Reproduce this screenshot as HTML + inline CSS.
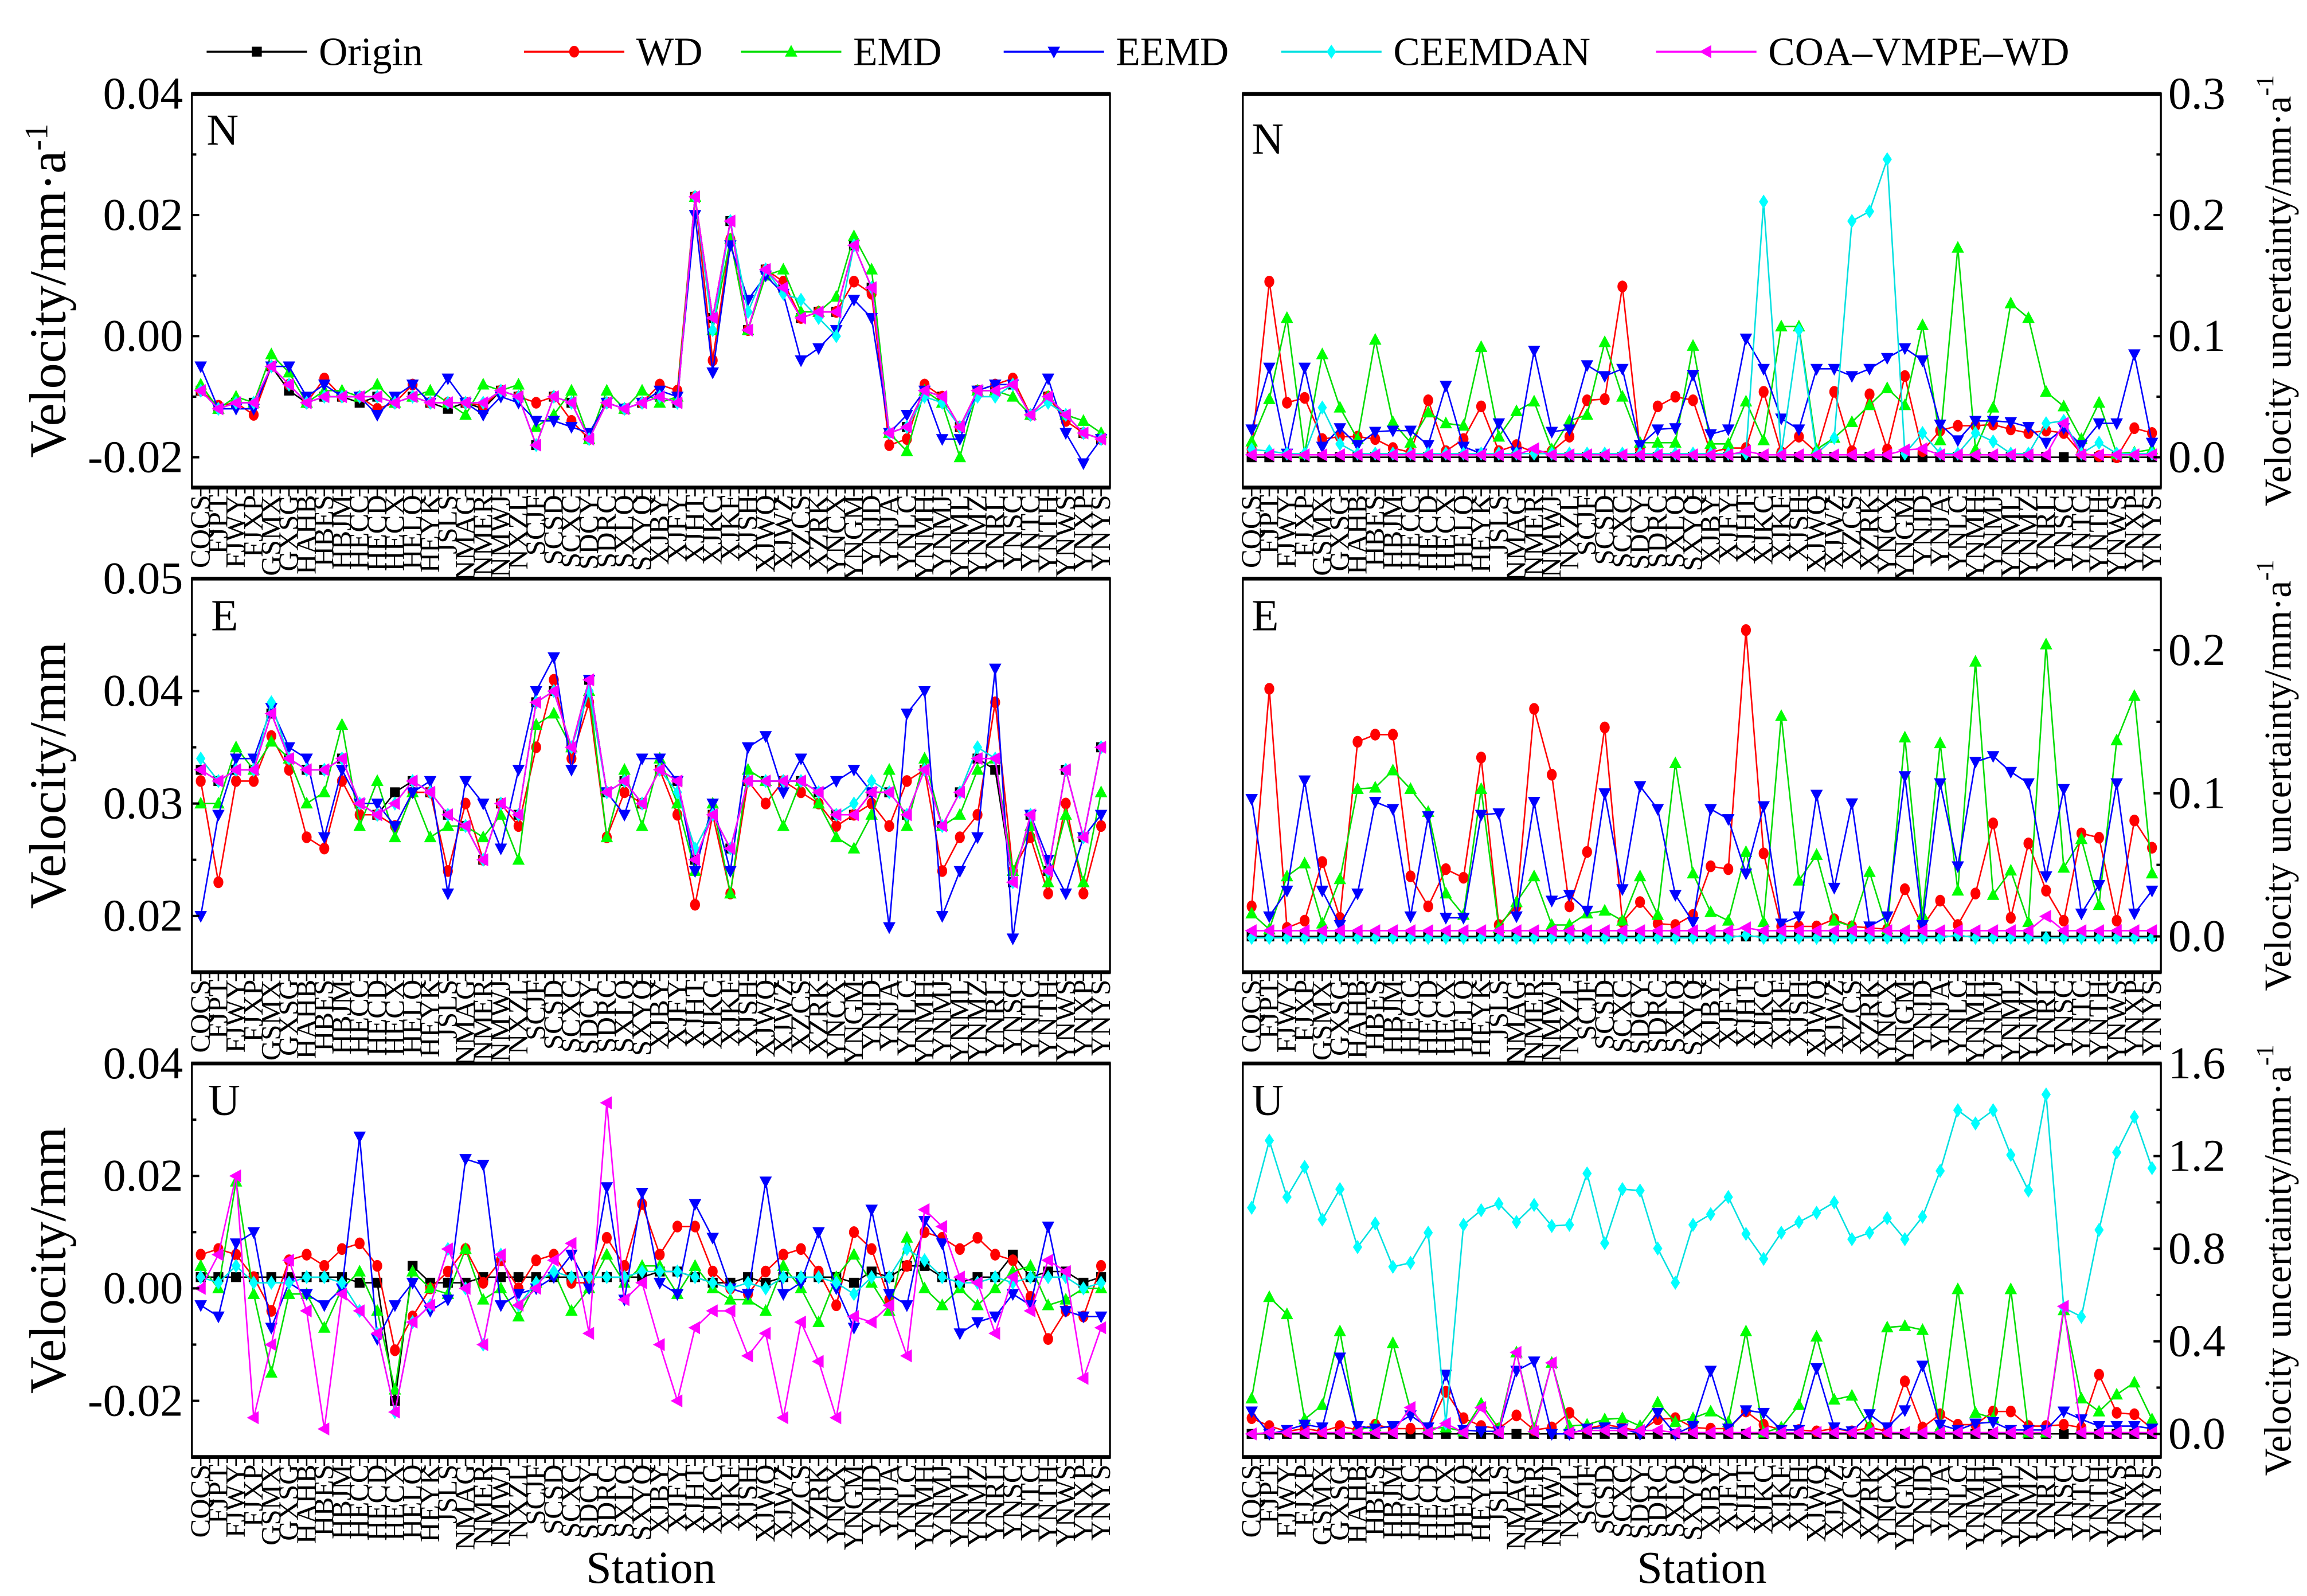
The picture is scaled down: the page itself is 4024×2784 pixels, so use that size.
<!DOCTYPE html>
<html><head><meta charset="utf-8"><style>html,body{margin:0;padding:0;background:#fff}svg{display:block}svg text{font-family:"Liberation Serif",serif;fill:#000}</style></head>
<body>
<svg id="chart" xmlns="http://www.w3.org/2000/svg" width="4024" height="2784" viewBox="0 0 1563 1081" preserveAspectRatio="none" font-family="Liberation Serif, serif">
<g id="legend"></g>
<g id="panels"></g>
</svg>
<script>
const stations = ["CQCS","FJPT","FJWY","FJXP","GSMX","GXSG","HAHB","HBES","HBJM","HECC","HECD","HECX","HELQ","HEYK","JSLS","NMAG","NMER","NMWJ","NXZL","SCJF","SCSD","SCXC","SDCY","SDRC","SXLQ","SXYQ","XJBY","XJFY","XJHT","XJKC","XJKF","XJSH","XJWQ","XJWZ","XZCS","XZRK","YNCX","YNGM","YNJD","YNJA","YNLC","YNMH","YNMJ","YNML","YNMZ","YNRL","YNSC","YNTC","YNTH","YNWS","YNXP","YNYS"];
const seriesNames = ["Origin","WD","EMD","EEMD","CEEMDAN","COA\u2013VMPE\u2013WD"];

const nOrigin = [-0.009,-0.012,-0.011,-0.011,-0.005,-0.009,-0.011,-0.010,-0.010,-0.011,-0.010,-0.011,-0.010,-0.011,-0.012,-0.011,-0.012,-0.009,-0.010,-0.018,-0.010,-0.011,-0.017,-0.011,-0.012,-0.011,-0.010,-0.011,0.023,0.003,0.019,0.001,0.011,0.008,0.003,0.004,0.004,0.015,0.008,-0.016,-0.015,-0.009,-0.010,-0.015,-0.009,-0.009,-0.008,-0.013,-0.010,-0.013,-0.016,-0.017];
const nWD = [-0.009,-0.0115,-0.011,-0.013,-0.005,-0.008,-0.011,-0.007,-0.010,-0.010,-0.012,-0.011,-0.008,-0.011,-0.011,-0.011,-0.0115,-0.009,-0.010,-0.011,-0.010,-0.014,-0.017,-0.011,-0.012,-0.011,-0.008,-0.009,0.023,-0.004,0.016,0.001,0.011,0.009,0.003,0.004,0.004,0.009,0.007,-0.018,-0.017,-0.008,-0.010,-0.015,-0.009,-0.008,-0.007,-0.013,-0.010,-0.014,-0.016,-0.017];
const nEMD = [-0.008,-0.012,-0.010,-0.011,-0.003,-0.006,-0.011,-0.009,-0.009,-0.010,-0.008,-0.011,-0.010,-0.009,-0.011,-0.013,-0.008,-0.009,-0.008,-0.015,-0.013,-0.009,-0.017,-0.009,-0.012,-0.009,-0.011,-0.010,0.023,0.001,0.016,0.001,0.010,0.011,0.004,0.004,0.0065,0.0165,0.011,-0.016,-0.019,-0.009,-0.011,-0.020,-0.009,-0.009,-0.010,-0.013,-0.010,-0.013,-0.014,-0.016];
const nEEMD = [-0.005,-0.012,-0.012,-0.012,-0.005,-0.005,-0.010,-0.008,-0.010,-0.010,-0.013,-0.010,-0.008,-0.011,-0.007,-0.011,-0.013,-0.010,-0.011,-0.014,-0.014,-0.015,-0.016,-0.011,-0.012,-0.011,-0.009,-0.010,0.020,-0.006,0.015,0.006,0.010,0.007,-0.004,-0.002,0.001,0.006,0.003,-0.016,-0.013,-0.009,-0.017,-0.017,-0.009,-0.008,-0.008,-0.013,-0.007,-0.016,-0.021,-0.017];
const nCEE = [-0.009,-0.012,-0.011,-0.011,-0.005,-0.008,-0.011,-0.010,-0.010,-0.010,-0.010,-0.011,-0.010,-0.011,-0.011,-0.011,-0.011,-0.009,-0.010,-0.018,-0.010,-0.011,-0.017,-0.011,-0.012,-0.011,-0.010,-0.011,0.023,0.001,0.019,0.004,0.011,0.007,0.006,0.003,0.000,0.015,0.008,-0.016,-0.015,-0.010,-0.011,-0.015,-0.010,-0.010,-0.008,-0.013,-0.011,-0.013,-0.016,-0.017];
const nCOA = [-0.009,-0.012,-0.011,-0.011,-0.005,-0.008,-0.011,-0.010,-0.010,-0.010,-0.010,-0.011,-0.010,-0.011,-0.011,-0.011,-0.011,-0.009,-0.010,-0.018,-0.010,-0.011,-0.017,-0.011,-0.012,-0.011,-0.010,-0.011,0.023,0.003,0.019,0.001,0.011,0.008,0.003,0.004,0.004,0.015,0.008,-0.016,-0.015,-0.009,-0.010,-0.015,-0.009,-0.009,-0.008,-0.013,-0.010,-0.013,-0.016,-0.017];

const eOrigin = [0.033,0.032,0.033,0.033,0.038,0.034,0.033,0.033,0.034,0.030,0.029,0.031,0.032,0.031,0.029,0.028,0.025,0.030,0.029,0.039,0.040,0.035,0.041,0.031,0.032,0.030,0.033,0.032,0.025,0.029,0.026,0.032,0.032,0.032,0.032,0.031,0.029,0.029,0.031,0.031,0.029,0.033,0.028,0.031,0.034,0.033,0.023,0.029,0.024,0.033,0.027,0.035];
const eWD = [0.032,0.023,0.032,0.032,0.036,0.033,0.027,0.026,0.032,0.029,0.029,0.028,0.031,0.031,0.024,0.030,0.025,0.030,0.028,0.035,0.041,0.034,0.039,0.027,0.031,0.030,0.033,0.029,0.021,0.029,0.022,0.032,0.030,0.032,0.031,0.030,0.028,0.029,0.030,0.028,0.032,0.033,0.024,0.027,0.029,0.039,0.024,0.027,0.022,0.030,0.022,0.028];
const eEMD = [0.030,0.030,0.035,0.033,0.0355,0.034,0.030,0.031,0.037,0.028,0.032,0.027,0.031,0.027,0.028,0.028,0.027,0.029,0.025,0.037,0.038,0.035,0.040,0.027,0.033,0.028,0.034,0.030,0.024,0.030,0.022,0.033,0.032,0.028,0.032,0.030,0.027,0.026,0.029,0.033,0.028,0.034,0.028,0.029,0.033,0.034,0.024,0.028,0.023,0.029,0.023,0.031];
const eEEMD = [0.020,0.029,0.034,0.034,0.0385,0.035,0.034,0.027,0.033,0.030,0.030,0.028,0.031,0.032,0.022,0.032,0.030,0.026,0.033,0.040,0.043,0.033,0.041,0.031,0.029,0.034,0.034,0.032,0.024,0.030,0.024,0.035,0.036,0.031,0.034,0.031,0.032,0.033,0.031,0.019,0.038,0.040,0.020,0.024,0.027,0.042,0.018,0.029,0.025,0.022,0.027,0.029];
const eCEE = [0.034,0.032,0.033,0.033,0.039,0.034,0.033,0.033,0.034,0.030,0.029,0.030,0.032,0.031,0.029,0.028,0.025,0.030,0.029,0.039,0.040,0.035,0.040,0.031,0.032,0.030,0.033,0.031,0.026,0.029,0.026,0.032,0.032,0.032,0.032,0.031,0.029,0.030,0.032,0.031,0.029,0.033,0.028,0.031,0.035,0.034,0.023,0.029,0.024,0.033,0.027,0.035];
const eCOA = [0.033,0.032,0.033,0.033,0.038,0.034,0.033,0.033,0.034,0.030,0.029,0.030,0.032,0.031,0.029,0.028,0.025,0.030,0.029,0.039,0.040,0.035,0.041,0.031,0.032,0.030,0.033,0.032,0.025,0.029,0.026,0.032,0.032,0.032,0.032,0.031,0.029,0.029,0.031,0.031,0.029,0.033,0.028,0.031,0.034,0.034,0.023,0.029,0.024,0.033,0.027,0.035];

const uOrigin = [0.002,0.002,0.002,0.002,0.002,0.002,0.002,0.002,0.002,0.001,0.001,-0.020,0.004,0.001,0.001,0.001,0.002,0.002,0.002,0.002,0.002,0.002,0.002,0.002,0.002,0.002,0.003,0.003,0.002,0.001,0.001,0.002,0.001,0.002,0.002,0.002,0.002,0.001,0.003,0.002,0.004,0.004,0.002,0.001,0.002,0.002,0.006,0.002,0.003,0.003,0.001,0.002];
const uWD = [0.006,0.007,0.006,0.002,-0.004,0.005,0.006,0.004,0.007,0.008,0.004,-0.011,-0.005,0.000,0.003,0.007,0.001,0.005,0.000,0.005,0.006,0.001,0.001,0.009,0.004,0.015,0.006,0.011,0.011,0.003,0.000,-0.001,0.003,0.006,0.007,0.003,-0.003,0.010,0.007,-0.002,0.004,0.010,0.009,0.007,0.009,0.006,0.005,-0.0015,-0.009,-0.004,-0.005,0.004];
const uEMD = [0.004,0.000,0.019,-0.001,-0.015,-0.001,-0.001,-0.007,0.000,0.003,-0.004,-0.018,0.003,0.000,-0.001,0.007,-0.002,0.000,-0.005,0.001,0.003,-0.004,0.000,0.006,0.001,0.004,0.004,-0.001,0.004,0.000,-0.002,-0.002,-0.004,0.004,0.000,-0.006,0.002,0.006,0.001,-0.004,0.009,0.000,-0.003,0.000,-0.003,0.000,0.003,0.004,-0.003,-0.002,0.000,0.000];
const uEEMD = [-0.003,-0.005,0.008,0.010,-0.007,0.001,-0.001,-0.003,0.000,0.027,-0.009,-0.003,0.001,-0.004,-0.002,0.023,0.022,-0.003,-0.001,0.000,0.002,0.006,0.000,0.018,-0.002,0.017,0.001,-0.001,0.015,0.009,0.000,-0.001,0.019,-0.001,0.001,0.010,0.000,-0.007,0.014,-0.001,-0.003,0.012,0.008,-0.008,-0.006,-0.005,-0.001,-0.003,0.011,-0.004,-0.005,-0.005];
const uCEE = [0.002,0.001,0.004,0.001,0.001,0.001,0.002,0.002,0.001,-0.004,-0.008,-0.022,-0.006,-0.003,0.007,0.000,-0.010,0.006,-0.003,0.001,0.003,0.002,0.002,0.002,0.002,0.003,0.003,0.003,0.002,0.001,0.000,0.001,0.000,0.002,0.002,0.002,0.001,-0.001,0.002,0.002,0.007,0.005,0.002,0.001,0.001,0.002,0.001,0.002,0.002,0.002,0.000,0.001];
const uCOA = [0.000,0.006,0.020,-0.023,-0.010,0.005,-0.004,-0.025,-0.001,-0.004,-0.008,-0.022,-0.006,-0.003,0.007,0.000,-0.010,0.006,-0.003,0.000,0.005,0.008,-0.008,0.033,-0.002,0.001,-0.010,-0.020,-0.007,-0.004,-0.004,-0.012,-0.008,-0.023,-0.006,-0.013,-0.023,-0.005,-0.006,-0.003,-0.012,0.014,0.011,0.002,0.001,-0.008,0.002,-0.004,0.005,0.003,-0.016,-0.007];

const snOrigin = [0,0,0,0,0,0,0,0,0,0,0,0,0,0,0,0,0,0,0,0,0,0,0,0,0,0,0,0,0,0,0,0,0,0,0,0,0,0,0,0,0,0,0,0,0,0,0,0,0,0,0,0];
const snWD = [0.0065,0.145,0.045,0.049,0.015,0.017,0.017,0.015,0.0076,0.004,0.047,0.005,0.015,0.042,0.005,0.010,0.004,0.005,0.017,0.047,0.048,0.141,0.0065,0.042,0.050,0.047,0.004,0.0076,0.0076,0.054,0.004,0.017,0.004,0.054,0.005,0.052,0.0065,0.067,0.005,0.022,0.026,0.026,0.027,0.023,0.020,0.022,0.020,0.003,0.001,0.000,0.024,0.020];
const snEMD = [0.013,0.048,0.115,0.003,0.085,0.041,0.015,0.097,0.029,0.012,0.037,0.028,0.026,0.091,0.017,0.038,0.046,0.0065,0.030,0.035,0.095,0.050,0.012,0.012,0.012,0.092,0.011,0.011,0.046,0.014,0.108,0.108,0.0065,0.016,0.029,0.043,0.057,0.043,0.109,0.014,0.173,0.0065,0.041,0.127,0.115,0.054,0.042,0.015,0.045,0.003,0.004,0.0065];
const snEEMD = [0.023,0.074,0.003,0.074,0.0087,0.024,0.010,0.021,0.022,0.022,0.010,0.059,0.0087,0.003,0.028,0.004,0.088,0.021,0.023,0.076,0.067,0.073,0.010,0.023,0.024,0.068,0.019,0.023,0.098,0.073,0.032,0.023,0.073,0.073,0.067,0.073,0.082,0.090,0.080,0.027,0.014,0.030,0.030,0.029,0.025,0.012,0.024,0.010,0.028,0.028,0.085,0.012];
const snCEE = [0.0065,0.005,0.003,0.003,0.041,0.011,0.003,0.003,0.003,0.003,0.003,0.003,0.003,0.003,0.003,0.003,0.003,0.003,0.003,0.003,0.003,0.003,0.003,0.003,0.003,0.003,0.003,0.003,0.003,0.211,0.003,0.105,0.003,0.016,0.195,0.203,0.246,0.003,0.020,0.003,0.003,0.020,0.013,0.003,0.003,0.028,0.030,0.003,0.012,0.003,0.003,0.003];
const snCOA = [0.002,0.002,0.002,0.002,0.002,0.002,0.002,0.002,0.002,0.002,0.002,0.002,0.002,0.002,0.002,0.002,0.007,0.002,0.002,0.002,0.002,0.002,0.002,0.002,0.002,0.002,0.002,0.002,0.005,0.002,0.002,0.002,0.002,0.002,0.002,0.002,0.002,0.006,0.007,0.002,0.002,0.002,0.002,0.002,0.002,0.002,0.028,0.002,0.002,0.002,0.002,0.002];

const seOrigin = [0,0,0,0,0,0,0,0,0,0,0,0,0,0,0,0,0,0,0,0,0,0,0,0,0,0,0,0,0,0,0,0,0,0,0,0,0,0,0,0,0,0,0,0,0,0,0,0,0,0,0,0];
const seWD = [0.021,0.173,0.006,0.011,0.052,0.013,0.136,0.141,0.141,0.042,0.021,0.047,0.041,0.125,0.008,0.021,0.159,0.113,0.021,0.059,0.146,0.010,0.024,0.009,0.008,0.015,0.049,0.047,0.214,0.058,0.007,0.007,0.007,0.012,0.007,0.006,0.005,0.033,0.007,0.025,0.008,0.030,0.079,0.013,0.065,0.032,0.011,0.072,0.069,0.011,0.081,0.062];
const seEMD = [0.016,0.005,0.042,0.051,0.009,0.040,0.103,0.104,0.116,0.103,0.087,0.030,0.015,0.103,0.006,0.024,0.042,0.008,0.008,0.016,0.018,0.011,0.042,0.015,0.121,0.044,0.017,0.011,0.059,0.010,0.154,0.039,0.057,0.011,0.007,0.045,0.005,0.139,0.015,0.135,0.032,0.192,0.029,0.046,0.010,0.204,0.048,0.068,0.022,0.137,0.168,0.044];
const seEEMD = [0.096,0.014,0.032,0.109,0.032,0.008,0.030,0.094,0.089,0.014,0.084,0.013,0.013,0.085,0.086,0.014,0.094,0.025,0.029,0.018,0.100,0.033,0.105,0.089,0.029,0.010,0.089,0.082,0.044,0.091,0.009,0.014,0.099,0.034,0.093,0.007,0.014,0.112,0.008,0.107,0.049,0.122,0.126,0.115,0.107,0.042,0.103,0.016,0.036,0.107,0.016,0.032];
const seCEE = [-0.001,-0.001,-0.001,-0.001,-0.001,-0.001,-0.001,-0.001,-0.001,-0.001,-0.001,-0.001,-0.001,-0.001,-0.001,-0.001,-0.001,-0.001,-0.001,-0.001,-0.001,-0.001,-0.001,-0.001,-0.001,-0.001,-0.001,-0.001,0.001,-0.001,-0.001,-0.001,-0.001,-0.001,-0.001,-0.001,-0.001,-0.001,-0.001,-0.001,0.001,-0.001,-0.001,-0.001,-0.001,-0.001,-0.001,-0.001,-0.001,-0.001,-0.001,-0.001];
const seCOA = [0.004,0.004,0.004,0.004,0.004,0.004,0.004,0.004,0.004,0.004,0.004,0.004,0.004,0.004,0.004,0.004,0.004,0.004,0.004,0.004,0.004,0.004,0.004,0.004,0.004,0.004,0.004,0.004,0.006,0.004,0.004,0.004,0.004,0.004,0.004,0.004,0.004,0.004,0.004,0.004,0.004,0.004,0.004,0.004,0.004,0.014,0.004,0.004,0.004,0.004,0.004,0.004];

const suOrigin = [0,0,0,0,0,0,0,0,0,0,0,0,0,0,0,0,0,0,0,0,0,0,0,0,0,0,0,0,0,0,0,0,0,0,0,0,0,0,0,0,0,0,0,0,0,0,0,0,0,0,0,0];
const suWD = [0.068,0.034,0.011,0.023,0.011,0.034,0.017,0.040,0.023,0.023,0.023,0.182,0.068,0.034,0.023,0.080,0.017,0.028,0.091,0.023,0.040,0.028,0.011,0.063,0.068,0.028,0.023,0.023,0.097,0.040,0.017,0.017,0.011,0.023,0.011,0.028,0.011,0.227,0.028,0.085,0.040,0.040,0.097,0.097,0.034,0.034,0.040,0.028,0.256,0.091,0.085,0.023];
const suEMD = [0.153,0.591,0.517,0.063,0.125,0.443,0.017,0.034,0.392,0.102,0.023,0.028,0.011,0.131,0.023,0.352,0.023,0.307,0.034,0.040,0.063,0.068,0.034,0.136,0.051,0.068,0.097,0.051,0.443,0.006,0.028,0.125,0.420,0.148,0.165,0.028,0.460,0.466,0.449,0.028,0.625,0.091,0.068,0.625,0.006,0.006,0.534,0.153,0.097,0.170,0.222,0.063];
const suEEMD = [0.097,0.000,0.017,0.040,0.028,0.330,0.034,0.023,0.034,0.080,0.028,0.256,0.017,0.011,0.011,0.273,0.313,0.000,0.000,0.023,0.028,0.023,0.000,0.091,0.000,0.034,0.273,0.023,0.102,0.091,0.017,0.017,0.284,0.028,0.011,0.085,0.028,0.102,0.295,0.040,0.017,0.045,0.051,0.017,0.017,0.017,0.097,0.063,0.034,0.034,0.034,0.023];
const suCEE = [0.977,1.267,1.023,1.153,0.926,1.057,0.807,0.909,0.722,0.739,0.869,0.045,0.903,0.966,0.994,0.915,0.989,0.898,0.903,1.125,0.824,1.057,1.051,0.801,0.653,0.903,0.949,1.023,0.864,0.756,0.869,0.915,0.955,1.000,0.841,0.869,0.932,0.841,0.938,1.136,1.398,1.341,1.398,1.205,1.051,1.466,0.545,0.506,0.881,1.216,1.369,1.148];
const suCOA = [0.000,0.006,0.006,0.006,0.006,0.006,0.006,0.006,0.006,0.114,0.006,0.045,0.006,0.114,0.006,0.352,0.010,0.307,0.006,0.015,0.015,0.015,0.015,0.015,0.006,0.006,0.006,0.006,0.006,0.006,0.006,0.006,0.006,0.006,0.006,0.006,0.006,0.006,0.006,0.006,0.006,0.006,0.006,0.006,0.006,0.006,0.551,0.006,0.006,0.006,0.006,0.006];

const tickN = [-0.02,-0.01,0,0.01,0.02,0.03,0.04];
const tickLabN = ["-0.02","","0.00","","0.02","","0.04"];
const tickE = [0.02,0.025,0.03,0.035,0.04,0.045,0.05];
const tickLabE = ["0.02","","0.03","","0.04","","0.05"];
const tickU = [-0.02,-0.01,0,0.01,0.02,0.03,0.04];
const tickLabU = ["-0.02","","0.00","","0.02","","0.04"];
const tickSN = [0,0.05,0.1,0.15,0.2,0.25,0.3];
const tickLabSN = ["0.0","","0.1","","0.2","","0.3"];
const tickSE = [0,0.05,0.1,0.15,0.2];
const tickLabSE = ["0.0","","0.1","","0.2"];
const tickSU = [0,0.2,0.4,0.6,0.8,1.0,1.2,1.4,1.6];
const tickLabSU = ["0.0","","0.4","","0.8","","1.2","","1.6"];

const NS = "http://www.w3.org/2000/svg";
const FONT = "Liberation Serif, serif";
const colors = ["#000000","#ff0000","#00ff00","#0000ff","#00ffff","#ff00ff"];
const lineColors = ["#000000","#ff0000","#00dd00","#0000ff","#00e0e0","#ff00ff"];
const markerKinds = ["square","circle","up","down","diamond","left"];

function mk(tag, attrs, parent){
  const e = document.createElementNS(NS, tag);
  for (const k in attrs) e.setAttribute(k, attrs[k]);
  if (tag === "text") e.setAttribute("font-family", FONT);
  parent.appendChild(e); return e;
}
function markerPath(kind, x, y, s){
  if (kind==="square") return `M${x-s*0.8},${y-s*0.8}h${s*1.6}v${s*1.6}h${-s*1.6}z`;
  if (kind==="up") return `M${x},${y-s*1.1}L${x+s},${y+s*0.8}L${x-s},${y+s*0.8}z`;
  if (kind==="down") return `M${x},${y+s*1.1}L${x+s},${y-s*0.8}L${x-s},${y-s*0.8}z`;
  if (kind==="diamond") return `M${x},${y-s*1.15}L${x+s*0.75},${y}L${x},${y+s*1.15}L${x-s*0.75},${y}z`;
  if (kind==="left") return `M${x-s*1.1},${y}L${x+s*0.8},${y-s*1.05}L${x+s*0.8},${y+s*1.05}z`;
  return "";
}
function drawMarker(kind, x, y, s, color, parent){
  let m;
  if (kind==="circle") m = mk("ellipse",{cx:x,cy:y,rx:s*0.8,ry:s*0.95,fill:color},parent);
  else m = mk("path",{d:markerPath(kind,x,y,s),fill:color},parent);
  return m;
}

const panelsG = document.getElementById("panels");
const PW = 622, PH = 266.6;
const panelDefs = [
  {name:"north-velocity-panel", letter:"N", x:130, y:63.6, ymin:-0.025, ymax:0.04, ticks:tickN, labs:tickLabN, side:"left", series:[nOrigin,nWD,nEMD,nEEMD,nCEE,nCOA], title:"Velocity/mm\u00b7a", sup:true, lx:140, ly:98},
  {name:"east-velocity-panel", letter:"E", x:130, y:391.9, ymin:0.015, ymax:0.05, ticks:tickE, labs:tickLabE, side:"left", series:[eOrigin,eWD,eEMD,eEEMD,eCEE,eCOA], title:"Velocity/mm", sup:false, lx:143, ly:427},
  {name:"up-velocity-panel", letter:"U", x:130, y:720.3, ymin:-0.03, ymax:0.04, ticks:tickU, labs:tickLabU, side:"left", series:[uOrigin,uWD,uEMD,uEEMD,uCEE,uCOA], title:"Velocity/mm", sup:false, lx:141, ly:755},
  {name:"north-uncertainty-panel", letter:"N", x:842, y:63.6, ymin:-0.025, ymax:0.3, ticks:tickSN, labs:tickLabSN, side:"right", series:[snOrigin,snWD,snEMD,snEEMD,snCEE,snCOA], title:"Velocity uncertainty/mm\u00b7a", sup:true, lx:848, ly:104},
  {name:"east-uncertainty-panel", letter:"E", x:842, y:391.9, ymin:-0.025, ymax:0.25, ticks:tickSE, labs:tickLabSE, side:"right", series:[seOrigin,seWD,seEMD,seEEMD,seCEE,seCOA], title:"Velocity uncertainty/mm\u00b7a", sup:true, lx:848, ly:427},
  {name:"up-uncertainty-panel", letter:"U", x:842, y:720.3, ymin:-0.1, ymax:1.6, ticks:tickSU, labs:tickLabSU, side:"right", series:[suOrigin,suWD,suEMD,suEEMD,suCEE,suCOA], title:"Velocity uncertainty/mm\u00b7a", sup:true, lx:848, ly:755}
];

panelDefs.forEach((p, pi) => {
  const g = mk("g",{},panelsG);
  
  
  const n = stations.length;
  const xs = i => p.x + 6 + i * (PW - 12) / (n - 1);
  const ys = v => p.y + PH - (v - p.ymin) / (p.ymax - p.ymin) * PH;

  const cid = "clip" + pi;
  const cp = mk("clipPath",{id:cid},g);
  mk("rect",{x:p.x,y:p.y,width:PW,height:PH},cp);

  const sg = mk("g",{"clip-path":`url(#${cid})`},g);
  
  
  p.series.forEach((arr, si) => {
    const pts = arr.map((v,i)=>`${xs(i).toFixed(2)},${ys(v).toFixed(2)}`).join(" ");
    const pl = mk("polyline",{points:pts,fill:"none",stroke:lineColors[si],"stroke-width":1},sg);
    
    
    arr.forEach((v,i) => {
      const m = drawMarker(markerKinds[si], xs(i), ys(v), 4.2, colors[si], sg);
      
      
    });
  });

  const fr = mk("rect",{x:p.x,y:p.y,width:PW,height:PH,fill:"none",stroke:"#000","stroke-width":1.3},g);
  
  
  mk("line",{x1:p.x-0.5,x2:p.x+PW+0.5,y1:p.y,y2:p.y,stroke:"#000","stroke-width":2.6},g);
  mk("line",{x1:p.x-0.5,x2:p.x+PW+0.5,y1:p.y+PH,y2:p.y+PH,stroke:"#000","stroke-width":2.6},g);

  const axX = p.side==="left" ? p.x : p.x + PW;
  const dir = p.side==="left" ? 1 : -1;
  p.ticks.forEach((t, ti) => {
    const y = ys(t);
    const major = p.labs[ti] !== "";
    mk("line",{x1:axX,x2:axX+dir*(major?5:3),y1:y,y2:y,stroke:"#000","stroke-width":1.6},g);
    if (major) {
      const tx = mk("text",{x: p.side==="left" ? p.x-6 : p.x+PW+5, y:y+10, "font-size":31, "text-anchor": p.side==="left"?"end":"start"},g);
      tx.textContent = p.labs[ti];
      
      
    }
  });

  for (let i = 0; i < n; i++) {
    const x = xs(i);
    mk("line",{x1:x,x2:x,y1:p.y+PH,y2:p.y+PH+6,stroke:"#000","stroke-width":1},g);
    if (i < n-1) {
      const xm = (x + xs(i+1))/2;
      mk("line",{x1:xm,x2:xm,y1:p.y+PH,y2:p.y+PH+4,stroke:"#000","stroke-width":1},g);
    }
    const lb = mk("text",{x:0,y:0,"font-size":19,"text-anchor":"end",transform:`translate(${x+6},${p.y+PH+5}) rotate(-90)`},g);
    lb.textContent = stations[i];
    
    
  }

  const lt = mk("text",{x:p.lx,y:p.ly,"font-size":30},g);
  lt.textContent = p.letter;
  
  

  const cy = p.y + PH/2;
  let tt;
  if (p.side==="left") {
    tt = mk("text",{x:0,y:0,"font-size":35,"text-anchor":"middle",transform:`translate(44,${cy}) rotate(-90)`},g);
  } else {
    tt = mk("text",{x:0,y:0,"font-size":26,"text-anchor":"middle",transform:`translate(1552,${cy}) rotate(-90)`},g);
  }
  tt.textContent = p.title;
  if (p.sup) {
    const ts = mk("tspan",{dy:-12,"font-size": p.side==="left"?22:17},tt);
    ts.textContent = "-1";
  }
  
  

  if (pi === 2 || pi === 5) {
    const st = mk("text",{x:p.x+PW/2,y:1072,"font-size":31,"text-anchor":"middle"},g);
    st.textContent = "Station";
    
    
  }
});

const legendG = document.getElementById("legend");
const legX = [140, 355, 502, 680, 868, 1122];
seriesNames.forEach((nm, si) => {
  const g = mk("g",{},legendG);
  
  
  const x0 = legX[si];
  mk("line",{x1:x0,x2:x0+68,y1:35,y2:35,stroke:lineColors[si],"stroke-width":1.3},g);
  drawMarker(markerKinds[si], x0+34, 35, 4.2, colors[si], g);
  const t = mk("text",{x:x0+76,y:44,"font-size":27},g);
  t.textContent = nm;
});
</script>
</body></html>
